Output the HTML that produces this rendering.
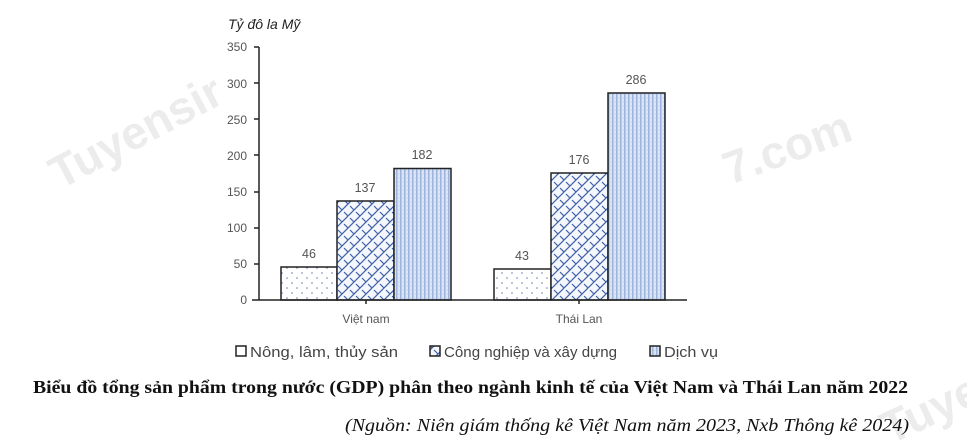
<!DOCTYPE html>
<html><head><meta charset="utf-8"><style>
html,body{margin:0;padding:0;background:#fff;width:967px;height:447px;overflow:hidden}
svg{display:block}
</style></head><body>
<svg width="967" height="447" viewBox="0 0 967 447" xmlns="http://www.w3.org/2000/svg">
<defs>
<pattern id="dots" width="10" height="10" patternUnits="userSpaceOnUse">
<rect width="10" height="10" fill="#fff"/><circle cx="2" cy="3" r="0.8" fill="#6a7fb0"/><circle cx="7" cy="8" r="0.8" fill="#6a7fb0"/></pattern>
<pattern id="weave" width="12" height="12" patternUnits="userSpaceOnUse">
<rect width="12" height="12" fill="#f4f7fc"/>
<path d="M0 12 L12 0 M-3 3 L3 -3 M9 15 L15 9 M2 2 L6 6 M8 8 L12 12" stroke="#3f5fa8" stroke-width="1.2" fill="none"/></pattern>
<pattern id="vert" width="4" height="4" patternUnits="userSpaceOnUse">
<rect width="4" height="4" fill="#dce6f5"/><rect x="0" width="1.5" height="4" fill="#9db3dc"/><circle cx="3" cy="2" r="0.5" fill="#aabee0"/></pattern>
</defs>
<g font-family="Liberation Sans, sans-serif" fill="#ececec" font-weight="bold" font-size="46">
<text transform="translate(60,190) rotate(-28)">Tuyensir</text>
<text transform="translate(730,185) rotate(-20)">7.com</text>
<text transform="translate(890,445) rotate(-25)">Tuye</text>
</g>
<text x="228" y="29" font-family="Liberation Sans, sans-serif" font-style="italic" font-size="14" fill="#222">Tỷ đô la Mỹ</text>
<g font-family="Liberation Sans, sans-serif" font-size="12" fill="#555" text-anchor="end">
<text x="247" y="51">350</text><text x="247" y="88">300</text><text x="247" y="124">250</text>
<text x="247" y="160">200</text><text x="247" y="196">150</text><text x="247" y="232">100</text>
<text x="247" y="268">50</text><text x="247" y="304">0</text>
</g>
<g stroke="#222" stroke-width="1.5">
<line x1="259" y1="47" x2="259" y2="300"/>
<line x1="254" y1="47" x2="259" y2="47"/><line x1="254" y1="83" x2="259" y2="83"/><line x1="254" y1="119" x2="259" y2="119"/>
<line x1="254" y1="155" x2="259" y2="155"/><line x1="254" y1="192" x2="259" y2="192"/><line x1="254" y1="228" x2="259" y2="228"/>
<line x1="254" y1="264" x2="259" y2="264"/>
</g>
<g stroke="#222" stroke-width="1.5">
<rect x="281" y="267" width="56" height="33" fill="url(#dots)"/>
<rect x="337" y="201" width="57" height="99" fill="url(#weave)"/>
<rect x="394" y="168.5" width="57" height="131.5" fill="url(#vert)"/>
<rect x="494" y="269" width="57" height="31" fill="url(#dots)"/>
<rect x="551" y="173" width="57" height="127" fill="url(#weave)"/>
<rect x="608" y="93" width="57" height="207" fill="url(#vert)"/>
<line x1="252" y1="300" x2="687" y2="300"/>
<line x1="366" y1="300" x2="366" y2="304"/><line x1="579" y1="300" x2="579" y2="304"/>
</g>
<g font-family="Liberation Sans, sans-serif" font-size="12.5" fill="#555" text-anchor="middle">
<text x="309" y="258">46</text><text x="365" y="192">137</text><text x="422" y="159">182</text>
<text x="522" y="260">43</text><text x="579" y="164">176</text><text x="636" y="84">286</text>
<text x="366" y="323" font-size="12">Việt nam</text><text x="579" y="323" font-size="12">Thái Lan</text>
</g>
<g font-family="Liberation Sans, sans-serif" font-size="15" fill="#444">
<rect x="236" y="346" width="10" height="10" fill="#fff" stroke="#222" stroke-width="1.5"/>
<text x="250" y="357" textLength="148" lengthAdjust="spacingAndGlyphs">Nông, lâm, thủy sản</text>
<rect x="430" y="346" width="10" height="10" fill="url(#weave)" stroke="#222" stroke-width="1.5"/>
<text x="444" y="357" textLength="173" lengthAdjust="spacingAndGlyphs">Công nghiệp và xây dựng</text>
<rect x="650" y="346" width="10" height="10" fill="url(#vert)" stroke="#222" stroke-width="1.5"/>
<text x="664" y="357" textLength="54" lengthAdjust="spacingAndGlyphs">Dịch vụ</text>
</g>
<text x="33" y="393" textLength="875" lengthAdjust="spacingAndGlyphs" font-family="Liberation Serif, serif" font-weight="bold" font-size="17.5" fill="#111">Biểu đồ tổng sản phẩm trong nước (GDP) phân theo ngành kinh tế của Việt Nam và Thái Lan năm 2022</text>
<text x="345" y="431" textLength="564" lengthAdjust="spacingAndGlyphs" font-family="Liberation Serif, serif" font-style="italic" font-size="17.5" fill="#111">(Nguồn: Niên giám thống kê Việt Nam năm 2023, Nxb Thông kê 2024)</text>
</svg>
</body></html>
